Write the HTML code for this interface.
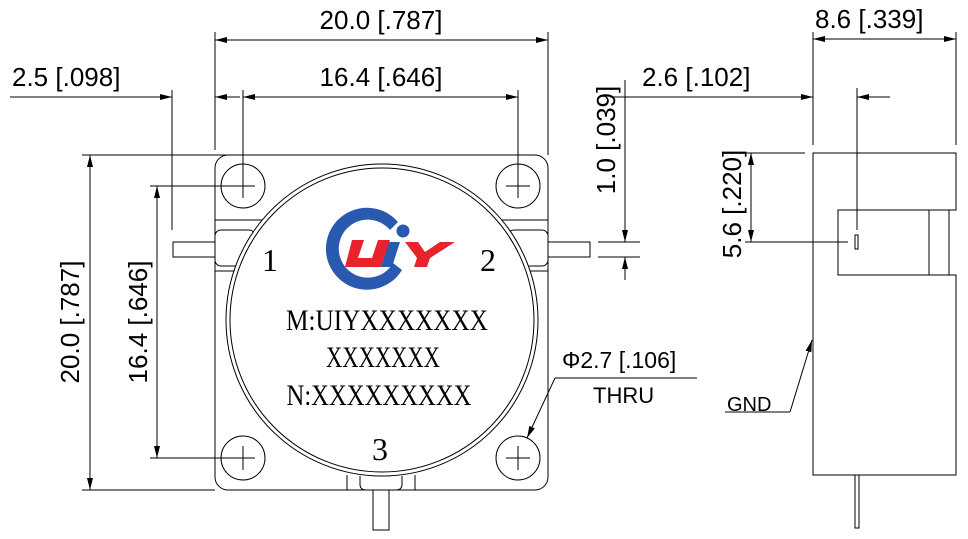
<!DOCTYPE html>
<html><head><meta charset="utf-8"><style>
html,body{margin:0;padding:0;background:#fff;}
svg{display:block;}
text{font-family:"Liberation Sans",sans-serif;fill:#000;}
.s{font-family:"Liberation Serif","Noto Serif CJK SC",serif;}
</style></head><body>
<svg width="968" height="539" viewBox="0 0 968 539" xmlns="http://www.w3.org/2000/svg">
<defs>
<marker id="a" viewBox="0 0 12 6" refX="12" refY="3" markerWidth="12" markerHeight="6" orient="auto-start-reverse" markerUnits="userSpaceOnUse"><path d="M0,0 L12,3 L0,6 z" fill="#000"/></marker>
</defs>
<g stroke="#000" stroke-width="1" fill="none">
<rect x="215" y="155" width="333" height="335" rx="13" fill="none"/>
<line x1="215" y1="220" x2="548" y2="220"/>
<line x1="215" y1="271" x2="548" y2="271"/>
<rect x="215" y="230" width="40" height="36" rx="6"/>
<rect x="508" y="230" width="40" height="36" rx="6"/>
<rect x="173" y="242" width="42" height="15" fill="#fff"/>
<rect x="548" y="242" width="42" height="15" fill="#fff"/>
<path d="M347,490 V475 M415,490 V475"/>
<path d="M360,476 V484 Q360,490 366,490 H373 V530 H389 V490 H396 Q402,490 402,484 V476"/>
<circle cx="382" cy="320" r="156" fill="#fff"/>
<circle cx="382" cy="320" r="152"/>
<g>
<circle cx="243" cy="186" r="22"/><path d="M231,186 H255 M243,174 V198"/>
<circle cx="518" cy="186" r="22"/><path d="M506,186 H530 M518,174 V198"/>
<circle cx="243" cy="458" r="22"/><path d="M231,458 H255 M243,446 V470"/>
<circle cx="518" cy="458" r="22"/><path d="M506,458 H530 M518,446 V470"/>
</g>
<path d="M215,32 V150 M548,32 V155"/>
<line x1="215" y1="40" x2="548" y2="40" marker-start="url(#a)" marker-end="url(#a)"/>
<path d="M172,90 V230 M243,90 V185 M518,90 V185"/>
<line x1="243" y1="97" x2="518" y2="97" marker-start="url(#a)" marker-end="url(#a)"/>
<line x1="10" y1="97" x2="172" y2="97" marker-end="url(#a)"/>
<line x1="240" y1="97" x2="215" y2="97" marker-end="url(#a)"/>
<path d="M82,155 H230 M150,186 H243 M150,458 H243 M82,490 H215"/>
<line x1="90" y1="155" x2="90" y2="490" marker-start="url(#a)" marker-end="url(#a)"/>
<line x1="157" y1="186" x2="157" y2="458" marker-start="url(#a)" marker-end="url(#a)"/>
<path d="M598,242 H640 M598,257 H640"/>
<line x1="625" y1="80" x2="625" y2="242" marker-end="url(#a)"/>
<line x1="625" y1="280" x2="625" y2="257" marker-end="url(#a)"/>
<path d="M697,378 H555"/>
<line x1="555" y1="378" x2="527" y2="438" marker-end="url(#a)"/>
<path d="M813,153 H956 V210 H838 V275 H956 V475 H813 Z"/>
<rect x="838" y="210" width="111" height="65"/>
<line x1="929" y1="210" x2="929" y2="275"/>
<rect x="855" y="235" width="3" height="14"/>
<rect x="855" y="475" width="4" height="53"/>
<path d="M813,32 V145 M956,32 V145"/>
<line x1="813" y1="39" x2="956" y2="39" marker-start="url(#a)" marker-end="url(#a)"/>
<line x1="610" y1="97" x2="813" y2="97" marker-end="url(#a)"/>
<line x1="890" y1="97" x2="857" y2="97" marker-end="url(#a)"/>
<line x1="857" y1="88" x2="857" y2="230"/>
<path d="M745,153 H805 M745,242 H848"/>
<line x1="751" y1="153" x2="751" y2="242" marker-start="url(#a)" marker-end="url(#a)"/>
<path d="M725,412 H790"/>
<line x1="790" y1="412" x2="812" y2="340" marker-end="url(#a)"/>
</g>
<g>
<path d="M398,222 A41,41 0 1 0 402,270 L393,263 A29,29 0 1 1 390,230 Z" fill="#2a5ab0"/>
<circle cx="403" cy="231" r="6.5" fill="#2a5ab0"/>
<path d="M352,240 H364 L358,258 H372 L378,240 H390 L381,267 H345 Z" fill="#e8232c"/>
<path d="M389,242 H400 L392,267 H381 Z" fill="#2a5ab0"/>
<path d="M405,242 H418 L425,252 L440,242 H455 L430,258 L427,267 H414 L417,258 Z" fill="#e8232c"/>
</g>
<text x="381" y="29" font-size="26" text-anchor="middle">20.0 [.787]</text>
<text x="381" y="86" font-size="26" text-anchor="middle">16.4 [.646]</text>
<text x="12" y="86" font-size="26">2.5 [.098]</text>
<text x="642" y="86" font-size="26">2.6 [.102]</text>
<text x="815" y="28" font-size="26">8.6 [.339]</text>
<text transform="translate(79,322) rotate(-90)" font-size="26" text-anchor="middle">20.0 [.787]</text>
<text transform="translate(147,322) rotate(-90)" font-size="26" text-anchor="middle">16.4 [.646]</text>
<text transform="translate(615,140) rotate(-90)" font-size="26" text-anchor="middle">1.0 [.039]</text>
<text transform="translate(741,204) rotate(-90)" font-size="26" text-anchor="middle">5.6 [.220]</text>
<text x="562" y="368" font-size="23">Φ2.7 [.106]</text>
<text x="593" y="403" font-size="22">THRU</text>
<text x="727" y="411" font-size="20">GND</text>
<text x="262" y="271" font-size="32" class="s">1</text>
<text x="480" y="271" font-size="32" class="s">2</text>
<text x="372" y="460" font-size="32" class="s">3</text>
<text x="387" y="330" font-size="30" text-anchor="middle" class="s" textLength="202" lengthAdjust="spacingAndGlyphs">M:UIYXXXXXXX</text>
<text x="383" y="367" font-size="30" text-anchor="middle" class="s" textLength="114" lengthAdjust="spacingAndGlyphs">XXXXXXX</text>
<text x="379" y="405" font-size="30" text-anchor="middle" class="s" textLength="185" lengthAdjust="spacingAndGlyphs">N:XXXXXXXXX</text>
</svg>
</body></html>
